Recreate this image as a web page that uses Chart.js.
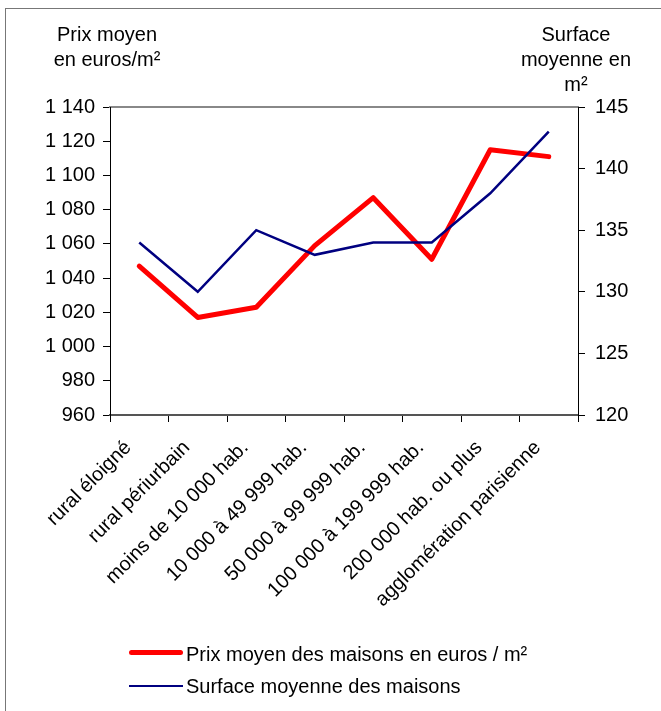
<!DOCTYPE html>
<html>
<head>
<meta charset="utf-8">
<script src="https://cdn.jsdelivr.net/npm/chart.js@4.4.1/dist/chart.umd.min.js"></script>
<style>
  html, body { margin:0; padding:0; background:#fff; overflow:hidden; }
  body { width:661px; height:711px; position:relative; font-family:"Liberation Sans", Arial, sans-serif; }
  #frame { position:absolute; left:5px; top:8px; width:700px; height:760px; border-left:1px solid #777; border-top:1px solid #777; }
  canvas { position:absolute; left:0; top:0; }
  .t { position:absolute; font-size:20px; line-height:25px; color:#000; white-space:nowrap; }
  .ctr { text-align:center; width:200px; }
  .leg { position:absolute; }
</style>
</head>
<body>
<div id="frame"></div>
<canvas id="c" width="661" height="711"></canvas>
<div class="t ctr" style="left:7px;top:21.5px;">Prix moyen<br>en euros/m²</div>
<div class="t ctr" style="left:476px;top:21.5px;">Surface<br>moyenne en<br>m²</div>
<div id="legend"></div>
<script>
const categories = ["rural éloigné","rural périurbain","moins de 10 000 hab.","10 000 à 49 999 hab.","50 000 à 99 999 hab.","100 000 à 199 999 hab.","200 000 hab. ou plus","agglomération parisienne"];
const prixMoyen = [1047, 1017, 1023, 1059, 1087, 1051, 1115, 1111];
const surfaceMoyenne = [134, 130, 135, 133, 134, 134, 138, 143];
const leftTicks = [960, 980, 1000, 1020, 1040, 1060, 1080, 1100, 1120, 1140];
const rightTicks = [120, 125, 130, 135, 140, 145];
const seriesLabels = ["Prix moyen des maisons en euros / m²", "Surface moyenne des maisons"];

const fmt = v => String(v).replace(/\B(?=(\d{3})+(?!\d))/g, " ");

Chart.defaults.font.family = "'Liberation Sans', Arial, sans-serif";
Chart.defaults.font.size = 20;
Chart.defaults.color = "#000";

const chart = new Chart(document.getElementById("c"), {
  type: "line",
  data: {
    labels: categories,
    datasets: [
      { label: seriesLabels[0], data: prixMoyen, yAxisID: "y", borderColor: "#ff0000", borderWidth: 5, pointRadius: 0, tension: 0, order: 1, fill: false, borderCapStyle: "round", borderJoinStyle: "round" },
      { label: seriesLabels[1], data: surfaceMoyenne, yAxisID: "y2", borderColor: "#000080", borderWidth: 2.5, pointRadius: 0, tension: 0, order: 0, fill: false }
    ]
  },
  options: {
    responsive: false,
    animation: false,
    devicePixelRatio: 1,
    layout: { padding: { top: 107, left: 0, right: 0, bottom: 0 } },
    plugins: { legend: { display: false }, tooltip: { enabled: false } },
    scales: {
      x: {
        type: "category",
        offset: true,
        grid: { offset: true, drawOnChartArea: false, tickLength: 7, color: "#000", lineWidth: 1 },
        border: { color: "#555", width: 2 },
        ticks: { autoSkip: false, minRotation: 45, maxRotation: 45, padding: 14, labelOffset: -11, color: "#000" },
        afterFit: s => { s.height = 296; }
      },
      xTop: {
        type: "category",
        position: "top",
        offset: true,
        grid: { display: false, drawTicks: false },
        ticks: { display: false },
        border: { color: "#888", width: 2 },
        afterFit: s => { s.height = 0; }
      },
      y: {
        position: "left",
        min: leftTicks[0], max: leftTicks[leftTicks.length - 1],
        afterBuildTicks: s => { s.ticks = leftTicks.map(v => ({ value: v })); },
        grid: { drawOnChartArea: false, tickLength: 7, color: "#000", lineWidth: 1 },
        border: { color: "#000", width: 1 },
        ticks: { padding: 8, callback: v => fmt(v) },
        afterFit: s => { s.width = 110; }
      },
      y2: {
        position: "right",
        min: rightTicks[0], max: rightTicks[rightTicks.length - 1],
        afterBuildTicks: s => { s.ticks = rightTicks.map(v => ({ value: v })); },
        grid: { drawOnChartArea: false, tickLength: 7, color: "#000", lineWidth: 1 },
        border: { color: "#000", width: 1 },
        ticks: { padding: 10, callback: v => fmt(v) },
        afterFit: s => { s.width = 83; }
      }
    }
  }
});

// HTML legend built from the datasets
const legend = document.getElementById("legend");
const legTops = [652.5, 686];
chart.data.datasets.forEach((ds, i) => {
  const line = document.createElement("div");
  line.className = "leg";
  line.style.left = "129px";
  line.style.width = "54px";
  line.style.height = ds.borderWidth + "px";
  line.style.top = (legTops[i] - ds.borderWidth / 2) + "px";
  line.style.background = ds.borderColor;
  if (i === 0) line.style.borderRadius = "2.5px";
  legend.appendChild(line);
  const txt = document.createElement("div");
  txt.className = "t";
  txt.style.left = "186px";
  txt.style.top = (i === 0 ? 641.5 : 673.5) + "px";
  txt.textContent = ds.label;
  legend.appendChild(txt);
});
</script>
</body>
</html>
